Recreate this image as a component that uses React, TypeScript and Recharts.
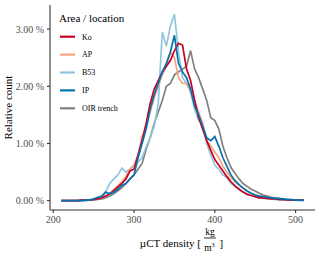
import React from 'react';
import { LineChart, Line, XAxis, YAxis } from 'recharts';

const densities = [
  210, 215, 220, 225, 230, 235, 240, 245, 250, 255, 260, 265, 270, 275, 280, 285, 290, 295, 300, 305,
  310, 315, 320, 325, 330, 335, 340, 345, 350, 355, 360, 365, 370, 375, 380, 385, 390, 395, 400, 405,
  410, 415, 420, 425, 430, 435, 440, 445, 450, 455, 460, 465, 470, 475, 480, 485, 490, 495, 500, 505, 510,
];

const koValues = [
  0, 0, 0, 0, 0, 0.01, 0.01, 0.01, 0.02, 0.03, 0.05, 0.08, 0.12, 0.18, 0.24, 0.3, 0.38, 0.52, 0.55, 0.8,
  1.05, 1.35, 1.7, 1.95, 2.1, 2.25, 2.35, 2.45, 2.62, 2.75, 2.72, 2.3, 2.1, 1.75, 1.45, 1.25, 1.05, 0.88, 0.72, 0.62,
  0.52, 0.42, 0.33, 0.26, 0.2, 0.15, 0.11, 0.09, 0.07, 0.05, 0.05, 0.04, 0.03, 0.03, 0.02, 0.02, 0.01, 0.01, 0.01, 0.01, 0.01,
];

const apValues = [
  0, 0, 0, 0, 0, 0, 0.01, 0.01, 0.02, 0.03, 0.05, 0.08, 0.13, 0.19, 0.26, 0.33, 0.42, 0.55, 0.62, 0.8,
  1.12, 1.3, 1.55, 1.8, 2.0, 2.2, 2.35, 2.6, 2.5, 2.15, 2.05, 2.05, 1.9, 1.75, 1.55, 1.35, 1.05, 0.95, 0.85, 0.75,
  0.6, 0.5, 0.4, 0.33, 0.27, 0.22, 0.17, 0.13, 0.1, 0.08, 0.07, 0.06, 0.05, 0.04, 0.03, 0.03, 0.02, 0.01, 0.01, 0.01, 0,
];

const b53Values = [
  0, 0, 0, 0, 0, 0.01, 0.01, 0.02, 0.03, 0.05, 0.09, 0.16, 0.3, 0.38, 0.45, 0.57, 0.5, 0.55, 0.62, 0.68,
  0.75, 0.94, 1.1, 1.3, 1.7, 2.95, 2.7, 3.05, 3.26, 2.6, 2.15, 2.05, 1.9, 1.6, 1.4, 1.35, 1.0, 0.8, 0.62, 0.55,
  0.45, 0.4, 0.3, 0.25, 0.2, 0.15, 0.12, 0.09, 0.07, 0.05, 0.04, 0.03, 0.03, 0.02, 0.02, 0.01, 0.01, 0.01, 0.01, 0, 0,
];

const ipValues = [
  0, 0, 0, 0, 0, 0, 0.01, 0.01, 0.03, 0.06, 0.07, 0.15, 0.12, 0.15, 0.2, 0.27, 0.3, 0.38, 0.45, 0.75,
  1.0, 1.25, 1.6, 1.85, 2.05, 2.25, 2.4, 2.6, 2.89, 2.4, 2.25, 2.15, 1.95, 1.65, 1.5, 1.3, 1.1, 1.05, 1.12, 0.95,
  0.75, 0.6, 0.45, 0.35, 0.28, 0.22, 0.17, 0.13, 0.1, 0.08, 0.07, 0.06, 0.05, 0.04, 0.03, 0.03, 0.02, 0.02, 0.01, 0.01, 0.01,
];

const oirValues = [
  0, 0, 0, 0, 0, 0, 0, 0.01, 0.01, 0.02, 0.03, 0.05, 0.08, 0.12, 0.17, 0.23, 0.3, 0.38, 0.45, 0.55,
  0.65, 0.9, 1.1, 1.35, 1.55, 1.75, 2.0, 2.05, 2.2, 2.25, 2.3, 2.35, 2.62, 2.3, 2.15, 1.95, 1.75, 1.45, 1.4, 1.25,
  0.95, 0.75, 0.58, 0.48, 0.38, 0.3, 0.25, 0.2, 0.17, 0.13, 0.1, 0.08, 0.06, 0.05, 0.04, 0.03, 0.02, 0.02, 0.01, 0.01, 0.01,
];

const seriesNames = ['Ko', 'AP', 'B53', 'IP', 'OIR trench'];
const seriesColors = ['#CA0020', '#F4A582', '#92C5DE', '#0571B0', '#808080'];
const seriesValues = [koValues, apValues, b53Values, ipValues, oirValues];
const drawOrder = [4, 2, 1, 0, 3];

const xTicks = [200, 300, 400, 500];
const yTicks = [0, 1, 2, 3];

const data = densities.map((d, i) => {
  const row: Record<string, number> = { density: d };
  seriesNames.forEach((n, k) => {
    row[n] = seriesValues[k][i];
  });
  return row;
});

const FONT = '"Liberation Serif", "DejaVu Serif", serif';

const XTitle = (props: any) => {
  const vb = props.viewBox || { x: 50, y: 210, width: 265, height: 49 };
  const cx = vb.x + vb.width / 2;
  return (
    <g fontFamily={FONT} fill="#000">
      <text x={cx + 18.5} y={247} textAnchor="end" fontSize={11}>µCT density [</text>
      <text x={cx + 27.5} y={235} textAnchor="middle" fontSize={9.5}>kg</text>
      <line x1={cx + 21.5} x2={cx + 33.5} y1={238} y2={238} stroke="#000" strokeWidth={0.8} />
      <text x={cx + 27} y={251} textAnchor="middle" fontSize={9.5}>
        m<tspan dy={-4} fontSize={6.5}>3</tspan>
      </text>
      <text x={cx + 37} y={247} fontSize={11}>]</text>
    </g>
  );
};

const YTitle = (props: any) => {
  const vb = props.viewBox || { x: 0, y: 5, width: 50, height: 205 };
  const cy = vb.y + vb.height / 2;
  return (
    <text
      x={12}
      y={cy}
      transform={`rotate(-90, 12, ${cy})`}
      textAnchor="middle"
      fontFamily={FONT}
      fontSize={11}
      fill="#000"
    >
      Relative count
    </text>
  );
};

const legendTitle = 'Area / location';

export default function App() {
  return (
    <div style={{ position: 'absolute', left: 0, top: 0, width: 320, height: 259, background: '#fff' }}>
      <LineChart width={320} height={259} data={data} margin={{ top: 5, right: 5, left: 0, bottom: 0 }}>
        <XAxis
          dataKey="density"
          type="number"
          domain={[196, 524]}
          ticks={xTicks}
          allowDataOverflow
          height={49}
          tickSize={3}
          tickMargin={3}
          stroke="#333"
          strokeWidth={1.1}
          tick={{ fontSize: 10, fill: '#4D4D4D', fontFamily: FONT }}
          label={{ content: XTitle }}
        />
        <YAxis
          type="number"
          domain={[-0.163, 3.42]}
          ticks={yTicks}
          allowDataOverflow
          width={50}
          tickSize={3}
          tickMargin={3}
          stroke="#333"
          strokeWidth={1.1}
          tick={{ fontSize: 10, fill: '#4D4D4D', fontFamily: FONT }}
          tickFormatter={(v: number) => `${v.toFixed(2)} %`}
          label={{ content: YTitle }}
        />
        {drawOrder.map((k) => (
          <Line
            key={seriesNames[k]}
            dataKey={seriesNames[k]}
            type="linear"
            stroke={seriesColors[k]}
            strokeWidth={1.7}
            dot={false}
            isAnimationActive={false}
          />
        ))}
      </LineChart>
      <svg
        width={320}
        height={259}
        style={{ position: 'absolute', left: 0, top: 0, pointerEvents: 'none' }}
      >
        <text x={59} y={22} fontFamily={FONT} fontSize={11} fill="#000">{legendTitle}</text>
        {seriesNames.map((n, k) => {
          const y = 36.7 + k * 17.9;
          return (
            <g key={n}>
              <line x1={60} x2={75} y1={y} y2={y} stroke={seriesColors[k]} strokeWidth={2.2} />
              <text x={82} y={y + 2.8} fontFamily={FONT} fontSize={8} fill="#000">{n}</text>
            </g>
          );
        })}
      </svg>
    </div>
  );
}
